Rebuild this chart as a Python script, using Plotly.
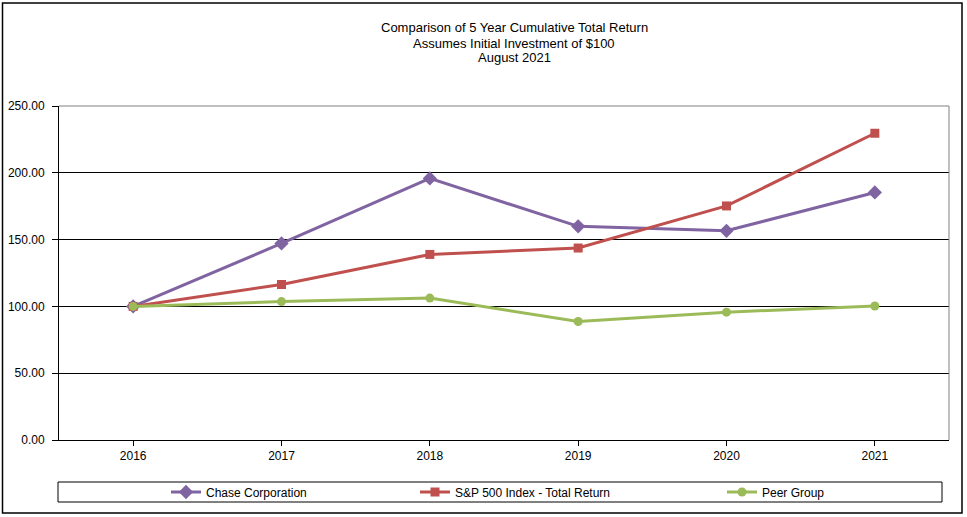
import plotly.graph_objects as go

years = ["2016", "2017", "2018", "2019", "2020", "2021"]
chase = [100.0, 147.1, 195.8, 159.9, 156.6, 185.3]
sp500 = [100.0, 116.4, 138.9, 143.7, 175.2, 229.6]
peer = [100.0, 103.6, 106.2, 88.7, 95.7, 100.3]
y_ticks = [0, 50, 100, 150, 200, 250]
title_lines = ["Comparison of 5 Year Cumulative Total Return",
               "Assumes Initial Investment of $100",
               "August 2021"]

FONT = "Liberation Sans, Arial, sans-serif"

# pixel layout helpers (plot area: x 59..949, y 106..440)
L, R, T, B = 59, 949, 106, 440
W, H = R - L, B - T
def px(x):
    return (x - L) / W
def py(y):
    return (B - y) / H

fig = go.Figure()
fig.add_trace(go.Scatter(x=years, y=chase, name="Chase Corporation", mode="lines+markers",
                         line=dict(color="#8064A2", width=3),
                         marker=dict(symbol="diamond", size=11, color="#8064A2"),
                         legend="legend"))
fig.add_trace(go.Scatter(x=years, y=sp500, name="S&P 500 Index - Total Return", mode="lines+markers",
                         line=dict(color="#C0504D", width=3),
                         marker=dict(symbol="square", size=9, color="#C0504D"),
                         legend="legend2"))
fig.add_trace(go.Scatter(x=years, y=peer, name="Peer Group", mode="lines+markers",
                         line=dict(color="#9BBB59", width=3),
                         marker=dict(symbol="circle", size=9, color="#9BBB59"),
                         legend="legend3"))

leg_common = dict(orientation="h", xref="paper", yref="paper", yanchor="middle", y=py(492),
                  bgcolor="rgba(0,0,0,0)", borderwidth=0, font=dict(family=FONT, size=12, color="#000"))

title_ann = [dict(text=t, xref="paper", yref="paper", x=px(514), y=py(yc), xanchor="center",
                  yanchor="middle", showarrow=False, font=dict(family=FONT, size=13, color="#000"))
             for t, yc in zip(title_lines, [27, 43, 58])]

fig.update_layout(
    width=967, height=517,
    margin=dict(l=L, r=967 - R, t=T, b=517 - B, pad=0, autoexpand=False),
    paper_bgcolor="white", plot_bgcolor="white",
    font=dict(family=FONT, size=12, color="#000"),
    showlegend=True,
    legend=dict(x=px(166), xanchor="left", **leg_common),
    legend2=dict(x=px(415), xanchor="left", **leg_common),
    legend3=dict(x=px(722), xanchor="left", **leg_common),
    xaxis=dict(type="category", range=[-0.5, 5.5], showline=True, linecolor="#000", linewidth=1,
               ticks="outside", ticklen=5, tickcolor="#000", showgrid=False, zeroline=False,
               automargin=False, tickfont=dict(family=FONT, size=12, color="#000")),
    yaxis=dict(range=[0, 250], tickvals=y_ticks, tickformat=".2f", showline=True, linecolor="#000",
               linewidth=1, ticks="outside", ticklen=6, tickcolor="#000", showgrid=True,
               gridcolor="#000", gridwidth=1, zeroline=False, ticklabelstandoff=5,
               automargin=False, tickfont=dict(family=FONT, size=12, color="#000")),
    annotations=title_ann,
    shapes=[
        # top and right plot borders in gray
        dict(type="line", xref="paper", yref="paper", x0=0, x1=1, y0=1, y1=1,
             line=dict(color="#808080", width=1), layer="above"),
        dict(type="line", xref="paper", yref="paper", x0=1, x1=1, y0=0, y1=1,
             line=dict(color="#808080", width=1), layer="above"),
        # legend box
        dict(type="rect", xref="paper", yref="paper", x0=px(58), x1=px(942), y0=py(502), y1=py(482),
             line=dict(color="#000", width=1), fillcolor="rgba(0,0,0,0)", layer="above"),
        # outer chart border
        dict(type="rect", xref="paper", yref="paper", x0=px(2.5), x1=px(962), y0=py(513), y1=py(3),
             line=dict(color="#000", width=1.5), fillcolor="rgba(0,0,0,0)", layer="above"),
    ],
)

fig.write_html("out.html", config={"displayModeBar": False},
               post_script="document.body.style.margin='0';document.body.style.overflow='hidden';")
